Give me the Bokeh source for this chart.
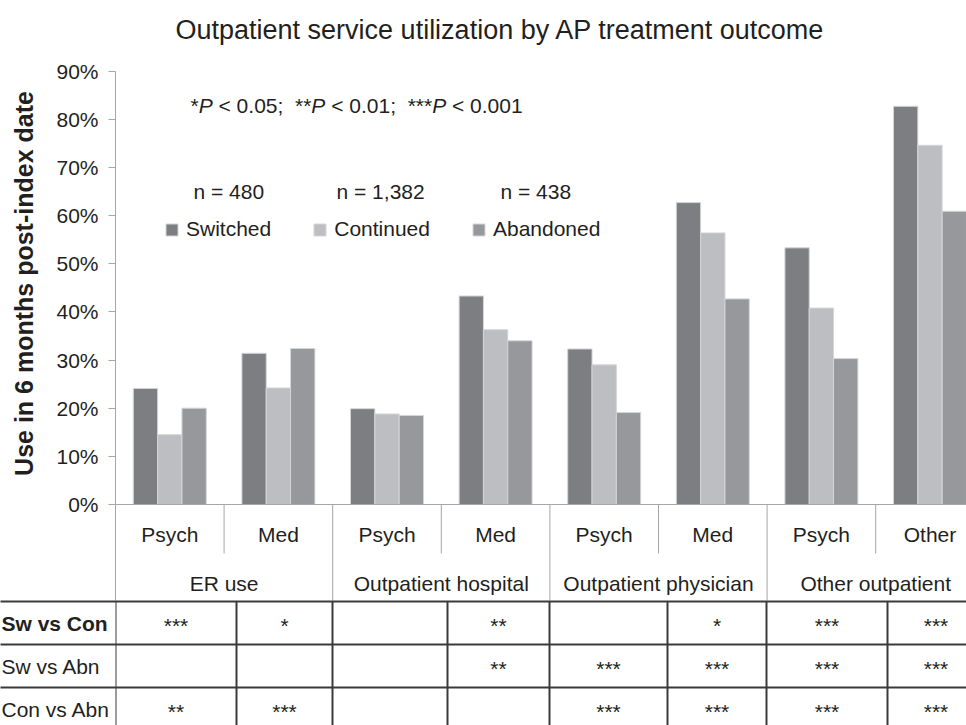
import math
from bokeh.plotting import figure
from bokeh.models import (ColumnDataSource, Range1d, FixedTicker, PrintfTickFormatter,
                          Legend, LegendItem)
from bokeh.transform import dodge
from bokeh.core.properties import value
from bokeh.embed import file_html
from bokeh.resources import INLINE

# ---------------- data ----------------
subcats = ["Psych", "Med", "Psych", "Med", "Psych", "Med", "Psych", "Other"]
groups = ["ER use", "Outpatient hospital", "Outpatient physician", "Other outpatient"]
series_names = ["Switched", "Continued", "Abandoned"]
switched = [24.1, 31.4, 19.9, 43.3, 32.3, 62.7, 53.3, 82.7]
continued = [14.5, 24.2, 18.8, 36.3, 29.0, 56.4, 40.8, 74.6]
abandoned = [20.0, 32.4, 18.5, 34.0, 19.1, 42.7, 30.3, 60.9]
n_labels = ["n = 480", "n = 1,382", "n = 438"]
y_ticks = [0, 10, 20, 30, 40, 50, 60, 70, 80, 90]
row_labels = ["Sw vs Con", "Sw vs Abn", "Con vs Abn"]
sw_vs_con = ["***", "*", "", "**", "", "*", "***", "***"]
sw_vs_abn = ["", "", "", "**", "***", "***", "***", "***"]
con_vs_abn = ["**", "***", "", "", "***", "***", "***", "***"]
note_parts = ["*", "P", " < 0.05;  ", "**", "P", " < 0.01;  ", "***", "P", " < 0.001"]
note_styles = ["normal", "italic", "normal"] * 3

# ---------------- layout constants ----------------
FONT = "Liberation Sans"
TXT = "#231f20"
GRID = "#a6a6a6"
TABLE = "#3a3a3a"
COLORS = ["#7d7e82", "#bdbec2", "#97989c"]
W, H = 966, 725
FRAME_LEFT, FRAME_TOP = 115, 50
CAT_PX = 108.6          # pixels per category
Y0_PX = 504             # page y of 0 %
PX_PER_UNIT = 4.815     # pixels per percentage point
BAR_W = 0.224
# Arial / Liberation Sans advance widths (em) for the note
ADV = {"*": 0.389, "P": 0.667, " ": 0.278, "<": 0.584, ".": 0.278, ";": 0.278,
       "0": 0.556, "1": 0.556, "5": 0.556}


def xd(px):
    return (px - FRAME_LEFT) / CAT_PX - 0.5


def yd(py):
    return (Y0_PX - py) / PX_PER_UNIT


x_end = xd(W)
y_start, y_end = yd(H), yd(FRAME_TOP)

p = figure(frame_width=W - FRAME_LEFT, frame_height=H - FRAME_TOP,
           x_range=Range1d(-0.5, x_end), y_range=Range1d(y_start, y_end),
           output_backend="svg", toolbar_location=None, x_axis_location=None,
           min_border_left=FRAME_LEFT, min_border_right=0, min_border_bottom=0,
           min_border_top=FRAME_TOP, outline_line_color=None,
           title="Outpatient service utilization by AP treatment outcome")
p.grid.visible = False
p.title.text_font = FONT
p.title.text_font_size = "27px"
p.title.text_font_style = "normal"
p.title.text_color = TXT
p.title.align = "left"
p.title.offset = 60
p.title.standoff = 12

src = ColumnDataSource(dict(idx=list(range(len(subcats))), switched=switched,
                            continued=continued, abandoned=abandoned))
renderers = []
for i, (key, name) in enumerate(zip(["switched", "continued", "abandoned"], series_names)):
    r = p.vbar(x=dodge("idx", (i - 1) * BAR_W, range=p.x_range), top=key, width=BAR_W,
               source=src, fill_color=COLORS[i], line_color="#d4d5d7", line_width=1)
    renderers.append(r)

ax = p.yaxis[0]
ax.ticker = FixedTicker(ticks=y_ticks)
ax.formatter = PrintfTickFormatter(format="%d%%")
ax.bounds = (yd(600), y_ticks[-1])
ax.axis_line_color = GRID
ax.major_tick_line_color = GRID
ax.major_tick_out = 7
ax.major_tick_in = 0
ax.minor_tick_line_color = None
ax.major_label_text_font = FONT
ax.major_label_text_font_size = "21px"
ax.major_label_text_color = TXT
ax.major_label_standoff = 10

# y-axis title (drawn in the left border, not clipped)
p.text(x=[xd(23)], y=[yd(283)], text=["Use in 6 months post-index date"],
       angle=math.pi / 2, text_align="center", text_baseline="middle",
       text_font=value(FONT), text_font_size="25px", text_font_style="bold",
       text_color=TXT, level="overlay")

# x-axis box lines
p.segment(x0=[-0.5], y0=[0], x1=[x_end], y1=[0], line_color=GRID, line_width=1)
sub_sep = [2 * g + 0.5 for g in range(len(groups))]
grp_sep = [2 * g + 1.5 for g in range(len(groups))]
p.segment(x0=sub_sep, y0=[0] * len(sub_sep), x1=sub_sep, y1=[yd(553)] * len(sub_sep),
          line_color=GRID, line_width=1)
p.segment(x0=grp_sep, y0=[0] * len(grp_sep), x1=grp_sep, y1=[yd(600)] * len(grp_sep),
          line_color=GRID, line_width=1)

p.text(x=list(range(len(subcats))), y=[yd(534)] * len(subcats), text=subcats,
       text_align="center", text_baseline="middle", text_font=value(FONT),
       text_font_size="21px", text_color=TXT)
p.text(x=[2 * g + 0.5 for g in range(len(groups))], y=[yd(583)] * len(groups), text=groups,
       text_align="center", text_baseline="middle", text_font=value(FONT),
       text_font_size="21px", text_color=TXT)

# significance note: pieces laid out with font advance widths
NOTE_FS = 21
note_x, note_t, cur = [], [], 190.0
for part in note_parts:
    lead = len(part) - len(part.lstrip(" "))
    note_x.append(xd(cur + lead * ADV[" "] * NOTE_FS))
    note_t.append(part.strip(" "))
    cur += sum(ADV[ch] for ch in part) * NOTE_FS
p.text(x=note_x, y=[yd(105)] * len(note_t), text=note_t,
       text_font_style=note_styles, text_align="left", text_baseline="alphabetic",
       text_font=value(FONT), text_font_size=f"{NOTE_FS}px", text_color=TXT)

# sample sizes
p.text(x=[xd(v) for v in [193, 336, 500]], y=[yd(191)] * 3, text=n_labels,
       text_align="left", text_baseline="alphabetic", text_font=value(FONT),
       text_font_size="21px", text_color=TXT)

legend = Legend(items=[LegendItem(label=n, renderers=[r]) for n, r in zip(series_names, renderers)],
                orientation="horizontal", location=(49, 484), spacing=41,
                label_standoff=7, glyph_width=15, glyph_height=15, padding=0, margin=0,
                border_line_color=None, background_fill_alpha=0,
                label_text_font=FONT, label_text_font_size="21px", label_text_color=TXT)
p.add_layout(legend)

# ---------------- significance table ----------------
row_lines_px = [601, 644, 687]
edges_px = [115, 236, 332, 447, 549, 667, 766, 887, 984]
edges = [xd(v) for v in edges_px]
p.segment(x0=[xd(0)] * 3, y0=[yd(v) for v in row_lines_px],
          x1=[x_end] * 3, y1=[yd(v) for v in row_lines_px],
          line_color=TABLE, line_width=2, level="overlay")
p.segment(x0=edges, y0=[yd(601)] * len(edges), x1=edges, y1=[y_start] * len(edges),
          line_color=TABLE, line_width=2)

rows = [sw_vs_con, sw_vs_abn, con_vs_abn]
cx, cy, ct = [], [], []
for r, row in enumerate(rows):
    for c, s in enumerate(row):
        cx.append((edges[c] + edges[c + 1]) / 2)
        cy.append(yd(row_lines_px[r] + 21.5))
        ct.append(s)
p.text(x=cx, y=cy, text=ct, text_align="center", text_baseline="middle",
       y_offset=2, text_font=value(FONT), text_font_size="21px", text_color=TXT)

p.text(x=[xd(1)] * len(row_labels), y=[yd(v + 21.5) for v in row_lines_px],
       text=row_labels, text_font_style=["bold", "normal", "normal"],
       text_align="left", text_baseline="middle", text_font=value(FONT),
       text_font_size="21px", text_color=TXT, level="overlay")

open("out.html", "w").write(file_html(p, INLINE))
